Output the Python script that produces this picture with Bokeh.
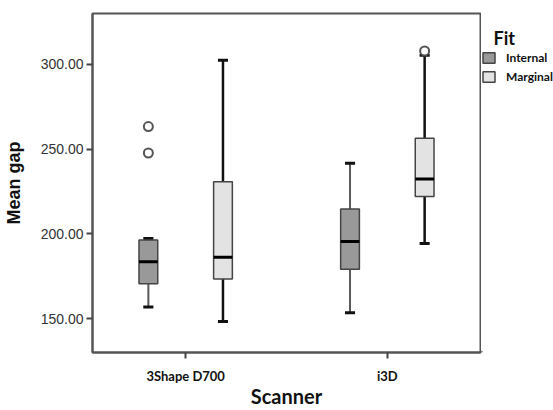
from bokeh.plotting import figure
from bokeh.layouts import row
from bokeh.models import (FixedTicker, PrintfTickFormatter, Range1d, Legend, LegendItem,
                          ColumnDataSource, Label)
from bokeh.embed import file_html
from bokeh.resources import INLINE

# ---------------- data ----------------
scanners = ["3Shape D700", "i3D"]
fits = ["Internal", "Marginal"]

internal_low = [156.8, 153.5]
internal_q1 = [170.6, 179.1]
internal_med = [183.6, 195.5]
internal_q3 = [196.3, 214.6]
internal_high = [197.2, 241.6]

marginal_low = [148.3, 194.3]
marginal_q1 = [173.4, 222.0]
marginal_med = [186.2, 232.4]
marginal_q3 = [230.8, 256.4]
marginal_high = [302.4, 305.3]

outlier_scanner = ["3Shape D700", "3Shape D700", "i3D"]
outlier_fit = ["Internal", "Internal", "Marginal"]
outlier_value = [263.3, 247.7, 307.9]

y_ticks = [150, 200, 250, 300]

# ---------------- layout constants ----------------
X0, X1 = -0.462, 1.462
Y0, Y1 = 130, 330
OFFSET = 0.185
BOX_W = 0.093
CAP_W = 0.05
H = 410
TOP, BOTTOM = 13, 58
FRAME_H = H - TOP - BOTTOM

p = figure(width=481, height=H, output_backend="svg", toolbar_location=None,
           x_range=Range1d(X0, X1), y_range=Range1d(Y0, Y1),
           min_border_left=92, min_border_right=1, min_border_top=TOP, min_border_bottom=BOTTOM)
p.grid.visible = False
p.background_fill_color = "white"
p.border_fill_color = "white"
p.outline_line_color = "#555555"
p.outline_line_width = 2

xpos = list(range(len(scanners)))

styles = {
    "Internal": dict(fill="#999999", whisker="#5a5a5a", ww=2),
    "Marginal": dict(fill="#e3e3e3", whisker="#111111", ww=2.5),
}
series = {
    "Internal": (internal_low, internal_q1, internal_med, internal_q3, internal_high, -OFFSET),
    "Marginal": (marginal_low, marginal_q1, marginal_med, marginal_q3, marginal_high, OFFSET),
}

for fit in fits:
    low, q1, med, q3, high, off = series[fit]
    st = styles[fit]
    xs = [x + off for x in xpos]
    src = ColumnDataSource(dict(x=xs, low=low, q1=q1, med=med, q3=q3, high=high,
                                cl=[x - CAP_W / 2 for x in xs], cr=[x + CAP_W / 2 for x in xs],
                                bl=[x - BOX_W / 2 for x in xs], br=[x + BOX_W / 2 for x in xs]))
    p.segment(x0="x", y0="q3", x1="x", y1="high", source=src, line_color=st["whisker"], line_width=st["ww"])
    p.segment(x0="x", y0="low", x1="x", y1="q1", source=src, line_color=st["whisker"], line_width=st["ww"])
    p.segment(x0="cl", y0="high", x1="cr", y1="high", source=src, line_color="#111111", line_width=3)
    p.segment(x0="cl", y0="low", x1="cr", y1="low", source=src, line_color="#111111", line_width=3)
    p.vbar(x="x", width=BOX_W, bottom="q1", top="q3", source=src,
           fill_color=st["fill"], line_color="#444444", line_width=1.5)
    p.segment(x0="bl", y0="med", x1="br", y1="med", source=src, line_color="#000000", line_width=3)

ox = [scanners.index(s) + (-OFFSET if f == "Internal" else OFFSET) for s, f in zip(outlier_scanner, outlier_fit)]
p.scatter(ox, outlier_value, marker="circle", size=9, fill_color="white",
          line_color="#555555", line_width=2)

# x axis
p.xaxis.ticker = FixedTicker(ticks=xpos)
p.xaxis.major_label_overrides = {i: s for i, s in enumerate(scanners)}
p.xaxis.major_label_text_font = "Lato"
p.xaxis.major_label_text_font_style = "bold"
p.xaxis.major_label_text_font_size = "13px"
p.xaxis.major_label_text_color = "#111111"
p.xaxis.major_tick_out = 6
p.xaxis.major_tick_in = 0
p.xaxis.major_label_standoff = 9
p.xaxis.minor_tick_line_color = None
p.xaxis.axis_label = "Scanner"
p.xaxis.axis_label_text_font = "Lato"
p.xaxis.axis_label_text_font_style = "bold"
p.xaxis.axis_label_text_font_size = "20px"
p.xaxis.axis_label_text_color = "#111111"
p.xaxis.axis_label_standoff = -3

# y axis
p.yaxis.ticker = FixedTicker(ticks=y_ticks)
p.yaxis.formatter = PrintfTickFormatter(format="%.2f")
p.yaxis.major_label_text_font = "Liberation Sans"
p.yaxis.major_label_text_font_size = "14px"
p.yaxis.major_label_text_color = "#333333"
p.yaxis.major_tick_out = 6
p.yaxis.major_tick_in = 0
p.yaxis.major_label_standoff = 3
p.yaxis.minor_tick_line_color = None
p.yaxis.axis_label = "Mean gap"
p.yaxis.axis_label_text_font = "Liberation Sans"
p.yaxis.axis_label_text_font_style = "bold"
p.yaxis.axis_label_text_font_size = "18px"
p.yaxis.axis_label_text_color = "#111111"
p.yaxis.axis_label_standoff = 14

for ax in (p.xaxis, p.yaxis):
    ax.axis_line_color = "#555555"
    ax.axis_line_width = 2
    ax.major_tick_line_color = "#444444"
    ax.major_tick_line_width = 2

# ---------------- legend panel (frame aligned with main frame) ----------------
LW = 72
q = figure(width=LW, height=H, output_backend="svg", toolbar_location=None,
           x_range=Range1d(0, LW), y_range=Range1d(0, FRAME_H),
           x_axis_location=None, y_axis_location=None,
           min_border_left=0, min_border_right=0, min_border_bottom=BOTTOM, min_border_top=TOP)
q.grid.visible = False
q.outline_line_color = None
q.background_fill_color = "white"
q.border_fill_color = "white"

items = []
for fit in fits:
    st = styles[fit]
    r = q.vbar(x=[-1000], width=1, bottom=[0], top=[1],
               fill_color=st["fill"], line_color="#444444", line_width=1.5)
    items.append(LegendItem(label=fit, renderers=[r]))

legend = Legend(items=items, location=(0, 268), orientation="vertical",
                glyph_width=15, glyph_height=13, label_height=13, spacing=4,
                label_standoff=10, padding=1, margin=0,
                label_text_font="Lato", label_text_font_style="bold",
                label_text_font_size="12px", label_text_color="#111111",
                border_line_color=None, background_fill_alpha=0)
q.add_layout(legend)
q.add_layout(Label(x=12, y=FRAME_H - (42 - TOP) + 5, text="Fit", text_font="Lato", text_font_style="bold",
                   text_font_size="18px", text_color="#111111",
                   text_align="left", text_baseline="alphabetic"))

layout = row(p, q, spacing=0)
open("out.html", "w").write(file_html(layout, INLINE))
